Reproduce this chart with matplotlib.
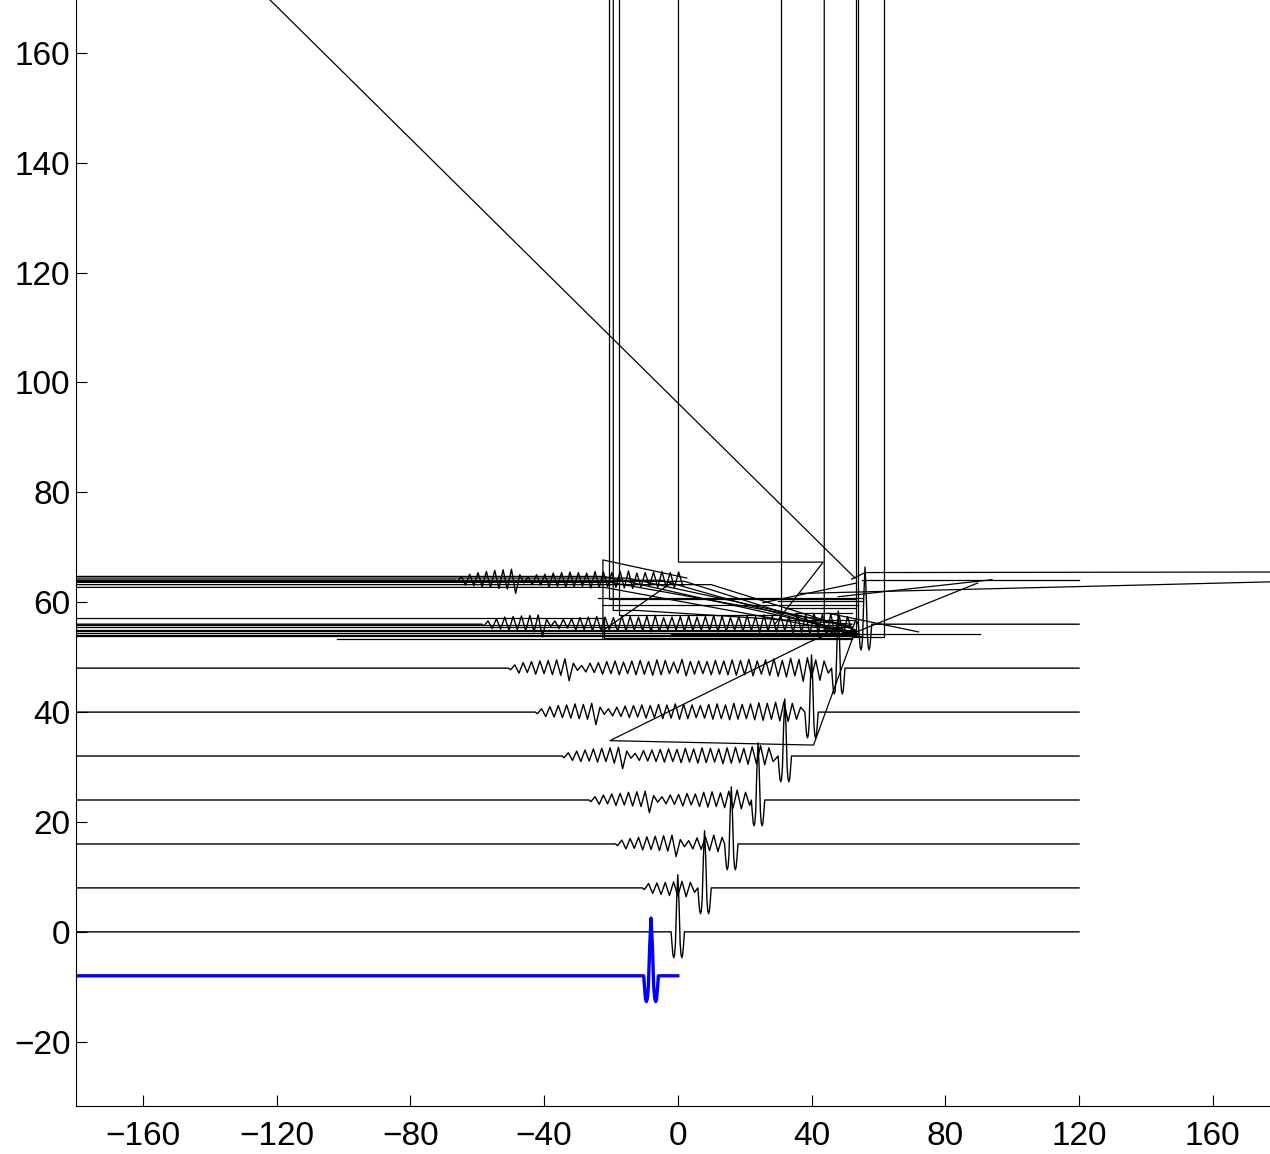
import numpy as np
import matplotlib
matplotlib.use("Agg")
import matplotlib.pyplot as plt

# trace baselines, where the wiggle train starts and where the main pulse sits
offsets = [0, 8, 16, 24, 32, 40, 48, 56, 64]
wiggle_start = [None, -10, -18, -26, -34, -42, -50, -58, -66]
pulse_at = [0, 8, 16, 24, 32, 40, 48, 56, None]
trace_end = 120
step = 1.25

# wiggle amplitudes (half-period samples)
w1 = [-0.3, 0.8, -1.0, 0.9, -1.2, 1.0, -1.4, 1.1, -1.5, 1.2, -1.6, 1.0, -0.8]
w2 = [-0.3, 0.7, -0.9, 1.0, -0.8, 1.2, -1.1, 1.3, -1.0, 1.4, -1.2, 1.5, -1.3, 1.6,
      -2.3, 0.8, -0.5, 0.6, -0.9, 1.1, -1.0, 1.3, -1.2, 1.6, -1.4, 1.2]
w3 = [-0.3, 0.6, -0.8, 0.9, -0.7, 1.1, -1.0, 1.2, -0.9, 1.4, -1.1, 1.5, -1.2, 1.6,
      -2.3, 0.8, -0.4, 0.6, -0.7, 0.9, -0.8, 1.0, -1.1, 1.2, -0.9, 1.1,
      -1.2, 1.4, -1.3, 1.5, -1.2, 1.3, -1.4, 1.6, -1.5, 1.8, -1.6, 1.4, -1.0]
w4 = [-0.3, 0.6, -0.8, 0.9, -1.0, 1.1, -0.9, 1.3, -1.1, 1.4, -1.0, 1.5, -1.3, 1.6,
      -2.3, 0.9, -0.4, 0.5, -0.8, 1.0, -0.9, 1.1, -1.0, 1.2, -1.1, 1.3,
      -1.0, 1.2, -1.2, 1.4, -1.1, 1.3, -1.3, 1.5, -1.2, 1.4, -1.1, 1.3, -1.4,
      1.5, -1.3, 1.6, -1.2, 1.4, -1.5, 1.7, -1.4, 1.9, -1.6, 1.5, -1.0]
w5 = [-0.3, 0.6, -0.8, 1.0, -0.9, 1.2, -1.0, 1.3, -1.1, 1.5, -1.2, 1.4, -1.3, 1.6,
      -2.3, 0.9, -0.4, 0.6, -0.7, 0.9, -0.8, 1.1, -1.0, 1.2, -0.9, 1.3,
      -1.1, 1.2, -1.0, 1.4, -1.2, 1.3, -1.1, 1.5, -1.3, 1.4, -1.2, 1.3, -1.0,
      1.2, -1.1, 1.4, -1.3, 1.5, -1.2, 1.3, -1.4, 1.6, -1.3, 1.4, -1.2, 1.5,
      -1.4, 1.7, -1.5, 1.6, -1.3, 1.8, -1.6, 1.9, -1.7, 1.6, -1.3, 0.9]
w6 = [-0.3, 0.6, -0.9, 1.0, -0.8, 1.2, -1.1, 1.3, -1.0, 1.4, -1.2, 1.5, -1.3, 1.7,
      -2.3, 0.9, -0.4, 0.5, -0.7, 0.9, -0.8, 1.0, -1.1, 1.2, -1.0, 1.3,
      -1.2, 1.1, -1.0, 1.3, -1.2, 1.4, -1.1, 1.2, -1.3, 1.5, -1.2, 1.4, -1.0,
      1.1, -0.9, 1.6, -1.4, 1.2, -1.1, 1.3, -1.0, 1.2, -1.2, 1.4, -1.1, 1.3,
      -1.2, 1.5, -1.3, 1.4, -1.2, 1.6, -1.4, 1.3, -1.1, 1.5, -1.3, 1.7,
      -1.5, 1.4, -1.6, 1.8, -1.4, 1.6, -2.4, 1.9, -1.7, 1.5, -2.2, 1.3, -0.9]
w7 = [-0.3, 0.6, -0.8, 1.0, -0.9, 1.3, -1.1, 1.4, -1.0, 1.5, -1.2, 1.6, -1.4, 1.7,
      -2.3, 0.9, -0.4, 0.6, -0.8, 0.9, -0.7, 1.0, -1.1, 1.2, -1.0, 1.3,
      -1.2, 1.4, -1.1, 1.3, -1.0, 1.2, -1.3, 1.5, -1.2, 1.4, -1.1, 1.3, -1.2,
      1.5, -1.4, 1.6, -1.3, 1.2, -1.0, 1.3, -1.1, 1.4, -1.3, 1.5, -1.2, 1.3,
      -1.1, 1.4, -1.2, 1.6, -1.4, 1.5, -1.3, 1.2, -1.1, 1.4, -1.3, 1.6,
      -1.2, 1.4, -1.5, 1.7, -1.3, 1.5, -1.4, 1.6, -1.2, 1.5, -1.6, 1.8,
      -1.5, 1.7, -1.8, 2.0, -1.6, 1.8, -2.2, 1.9, -1.7, 1.6, -2.0, 1.4, -1.1, 0.8]
w8 = [-0.3, 0.7, -0.9, 1.1, -1.0, 1.4, -1.2, 1.6, -1.3, 1.8, -1.5, 1.9, -1.6, 2.0,
      -2.4, 1.0, -0.5, 0.6, -0.8, 1.0, -0.9, 1.1, -1.2, 1.3, -1.1, 1.4,
      -1.3, 1.5, -1.2, 1.4, -1.1, 1.3, -1.4, 1.6, -1.3, 1.5, -1.2, 1.4, -1.3,
      1.6, -1.4, 1.7, -1.5, 1.3, -1.2, 1.4, -1.1, 1.5, -1.3, 1.6, -1.2, 1.4,
      -1.3, 1.5, -1.0]
wiggles = [None, w1, w2, w3, w4, w5, w6, w7, w8]

# shape of the main pulse (offset from its centre, amplitude)
pulse_dx = [-2.0, -1.7, -1.45, -1.2, -0.95, -0.7, -0.35, 0.0, 0.35, 0.7, 0.95, 1.2, 1.45, 1.7, 2.0]
pulse_amp = [0.0, -2.5, -4.2, -4.7, -4.1, -2.0, 5.5, 10.4, 5.5, -2.0, -4.1, -4.7, -4.2, -2.5, 0.0]

# source wavelet (blue)
src_level = -8
src_at = -8
src_end = 0
src_dx = [-2.2, -1.9, -1.65, -1.4, -1.1, -0.8, -0.4, 0.0, 0.4, 0.8, 1.1, 1.4, 1.65, 1.9, 2.2]
src_amp = [0.0, -2.5, -4.2, -4.7, -4.1, -2.0, 5.5, 10.5, 5.5, -2.0, -4.1, -4.7, -4.2, -2.5, 0.0]

# stray polylines in the upper part of the section
glitch_paths = [
    [(-180, 64.7), (-22, 64.7), (53, 54.5)],
    [(-180, 64.4), (-15, 64.4), (52, 55.5)],
    [(-180, 64.0), (-5, 64.0), (53, 54.0)],
    [(-180, 63.8), (2, 63.8), (54, 53.8)],
    [(-180, 63.6), (-20, 63.6), (50, 56.0)],
    [(-180, 63.2), (10, 63.2), (53, 55.0)],
    [(-180, 62.7), (-22, 62.7), (53, 54.3)],
    [(-180, 57.2), (-22, 57.2), (-22, 53.5), (52, 53.5)],
    [(-180, 55.9), (50, 55.9)],
    [(-180, 55.4), (52, 55.4)],
    [(-180, 55.0), (53, 55.0)],
    [(-180, 54.7), (53, 54.7)],
    [(-180, 54.4), (54, 54.4)],
    [(-180, 54.1), (53, 54.1)],
    [(-180, 53.9), (55, 53.9)],
    [(-102, 53.3), (52, 53.3)],
    [(-2, 54.3), (90.3, 54.3)],
    [(-24, 60.8), (55, 60.8)],
    [(-22.5, 59.5), (54, 59.5)],
    [(30, 60.3), (55, 60.3)],
    [(32, 59.0), (53, 59.0)],
    [(35, 58.0), (52, 58.0)],
    [(38, 56.8), (53, 56.8)],
    [(-17.6, 180), (-17.6, 57.7), (31, 57.7), (31, 180)],
    [(0.2, 180), (0.2, 67.3), (43.5, 67.3), (29, 56)],
    [(-20.5, 180), (-20.5, 60.6), (53, 60.6)],
    [(-19.3, 180), (-19.3, 58.5), (-12, 58.5), (52, 56)],
    [(43.8, 180), (43.8, 55), (52, 54.5)],
    [(53.4, 180), (53.4, 54)],
    [(54.0, 180), (54.0, 55.5)],
    [(61.6, 180), (61.6, 53.7), (52, 53.7)],
    [(-22.4, 53.3), (-22.4, 67.7), (2.7, 64.4)],
    [(-139.2, 180), (53, 64.4)],
    [(52, 53), (40.6, 34.0), (-20.3, 34.8), (39.5, 52.8), (52, 56)],
    [(51, 54), (89.7, 63.5)],
    [(45, 58), (72, 54.6)],
    [(-22, 55), (-2, 63.5)],
    [(25.4, 59.9), (53.5, 63.5)],
    [(52, 64.2), (56, 65.4), (180, 65.5)],
    [(36.5, 61.6), (180, 63.75)],
    [(48, 61.0), (94, 64.1)],
    [(55, 64), (120, 64)],
]

xticks = [-160, -120, -80, -40, 0, 40, 80, 120, 160]
yticks = [-20, 0, 20, 40, 60, 80, 100, 120, 140, 160]

plt.rcParams['font.family'] = ['Liberation Sans', 'DejaVu Sans']

fig = plt.figure(figsize=(12.7, 11.54), dpi=100)
ax = fig.add_axes([0.0598, 0.0416, 0.9478, 0.9602])

for k in range(len(offsets)):
    xs = [-180]
    ys = [0.0]
    if wiggles[k] is not None:
        s = wiggle_start[k]
        xs.append(s - 0.6)
        ys.append(0.0)
        xs += list(s + step * np.arange(len(wiggles[k])))
        ys += wiggles[k]
    if pulse_at[k] is not None:
        xs += [pulse_at[k] + d for d in pulse_dx]
        ys += pulse_amp
        xs.append(trace_end)
        ys.append(0.0)
    ax.plot(xs, np.array(ys) + offsets[k], color='black', lw=1.0,
            solid_joinstyle='round')

for path in glitch_paths:
    px, py = zip(*path)
    ax.plot(px, py, color='black', lw=0.9)

bx = [-180] + [src_at + d for d in src_dx] + [src_end]
by = [0.0] + src_amp + [0.0]
ax.plot(bx, np.array(by) + src_level, color='blue', lw=2.4)

ax.set_xlim(-180, 180)
ax.set_ylim(-31.7, 170)
ax.set_xticks(xticks)
ax.set_yticks(yticks)
ax.spines['top'].set_visible(False)
ax.spines['right'].set_visible(False)
ax.tick_params(direction='in', length=8, width=0.8, labelsize=24)
ax.tick_params(axis='x', pad=11)
ax.tick_params(axis='y', pad=4)

fig.savefig('out.png', dpi=100)
